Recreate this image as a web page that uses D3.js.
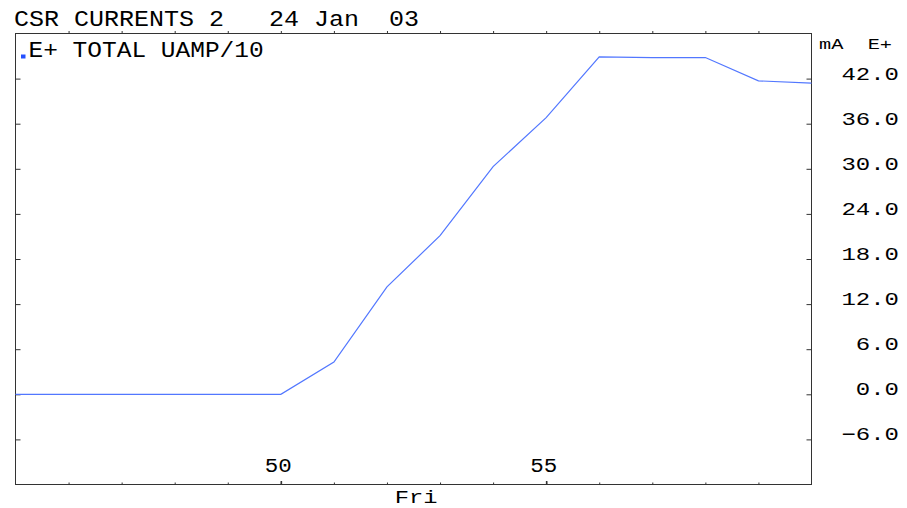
<!DOCTYPE html>
<html>
<head>
<meta charset="utf-8">
<script src="https://cdn.jsdelivr.net/npm/d3@7"></script>
<style>
  html, body { margin: 0; padding: 0; background: #fff; }
  svg { display: block; }
  text { font-family: "Liberation Mono", "DejaVu Sans Mono", monospace; fill: #000; white-space: pre; }
</style>
</head>
<body>
<svg id="chart" width="907" height="508"></svg>
<script>
// ---- data ----
const titleText = "CSR CURRENTS 2   24 Jan  03";
const seriesName = "E+ TOTAL UAMP/10";
const unitLabel = "mA  E+";
const dayLabel = "Fri";
const dayLabelAt = 52.55;

// minute of the hour and E+ total current (mA)
const minutes = [45, 46, 47, 48, 49, 50, 51, 52, 53, 54, 55, 56, 57, 58, 59, 60];
const current = [0, 0, 0, 0, 0, 0, 4.3, 14.3, 21.1, 30.3, 36.8, 44.9, 44.8, 44.8, 41.7, 41.4];

const yTicks = [-6, 0, 6, 12, 18, 24, 30, 36, 42];
const xLabelTicks = [50, 55];
const xMinorTicks = [46, 47, 48, 49, 50, 51, 52, 53, 54, 55, 56, 57, 58, 59];

// ---- layout ----
const plot = { left: 15.5, right: 811.5, top: 33.5, bottom: 484.5 };
const svg = d3.select("#chart");

const x = d3.scaleLinear().domain([45, 60]).range([plot.left, plot.right]);
const y = d3.scaleLinear().domain([-12, 48]).range([plot.bottom, plot.top]);

// ---- frame ----
svg.append("rect")
  .attr("x", plot.left).attr("y", plot.top)
  .attr("width", plot.right - plot.left).attr("height", plot.bottom - plot.top)
  .attr("fill", "none").attr("stroke", "#333").attr("stroke-width", 1);

// ---- tick marks via d3 axes ----
function cleanAxis(g) {
  g.select(".domain").remove();
  g.selectAll(".tick line").attr("stroke", "#333");
  g.selectAll(".tick text").remove();
}

// top edge: short outward ticks every minute
svg.append("g")
  .attr("transform", `translate(0,${plot.top})`)
  .call(d3.axisTop(x).tickValues(xMinorTicks).tickSize(2.5).tickSizeOuter(0))
  .call(cleanAxis);

// bottom edge: short inward ticks, slightly longer at labelled minutes
svg.append("g")
  .attr("transform", `translate(0,${plot.bottom})`)
  .call(d3.axisBottom(x).tickValues(xMinorTicks).tickSize(-2).tickSizeOuter(0))
  .call(cleanAxis);
svg.append("g")
  .attr("transform", `translate(0,${plot.bottom})`)
  .call(d3.axisBottom(x).tickValues(xLabelTicks).tickSize(-3.5).tickSizeOuter(0))
  .call(cleanAxis)
  .selectAll(".tick line").attr("stroke-width", 1.6);

// left and right edges: inward ticks
svg.append("g")
  .attr("transform", `translate(${plot.left},0)`)
  .call(d3.axisLeft(y).tickValues(yTicks).tickSize(-5).tickSizeOuter(0))
  .call(cleanAxis);
svg.append("g")
  .attr("transform", `translate(${plot.right},0)`)
  .call(d3.axisRight(y).tickValues(yTicks).tickSize(-5).tickSizeOuter(0))
  .call(cleanAxis);

// ---- labels (wide terminal lettering: monospace stretched with textLength) ----
const fmt = d3.format(".1f");
svg.append("g").selectAll("text")
  .data(yTicks.map(v => ({ v, s: fmt(v) })))
  .join("text")
  .attr("x", 899)
  .attr("y", d => y(d.v) + 1)
  .attr("text-anchor", "end")
  .attr("font-size", 18)
  .attr("textLength", d => d.s.length * 14.4)
  .attr("lengthAdjust", "spacingAndGlyphs")
  .text(d => d.s);

svg.append("g").selectAll("text")
  .data(xLabelTicks)
  .join("text")
  .attr("x", d => x(d) - 2.5)
  .attr("y", 471.5)
  .attr("text-anchor", "middle")
  .attr("font-size", 20)
  .attr("textLength", d => String(d).length * 13.5)
  .attr("lengthAdjust", "spacingAndGlyphs")
  .text(d => String(d));

svg.append("text")
  .attr("x", x(dayLabelAt)).attr("y", 502.5)
  .attr("text-anchor", "middle")
  .attr("font-size", 19)
  .attr("textLength", dayLabel.length * 14.3)
  .attr("lengthAdjust", "spacingAndGlyphs")
  .text(dayLabel);

svg.append("text")
  .attr("x", 819).attr("y", 48.5)
  .attr("font-size", 15)
  .attr("textLength", 73)
  .attr("lengthAdjust", "spacingAndGlyphs")
  .text(unitLabel);

svg.append("text")
  .attr("x", 14).attr("y", 26)
  .attr("font-size", 22)
  .attr("textLength", titleText.length * 15)
  .attr("lengthAdjust", "spacingAndGlyphs")
  .text(titleText);

// legend marker and series name
svg.append("rect")
  .attr("x", 21).attr("y", 54.5).attr("width", 4.5).attr("height", 4)
  .attr("fill", "#2450ff");
svg.append("text")
  .attr("x", 28.5).attr("y", 57)
  .attr("font-size", 22)
  .attr("textLength", seriesName.length * 14.7)
  .attr("lengthAdjust", "spacingAndGlyphs")
  .text(seriesName);

// ---- series line ----
const pts = minutes.map((m, i) => [m, current[i]]);
svg.append("path")
  .datum(pts)
  .attr("fill", "none")
  .attr("stroke", "#5277ff")
  .attr("stroke-width", 1.2)
  .attr("d", d3.line().x(d => x(d[0])).y(d => y(d[1])));
</script>
</body>
</html>
